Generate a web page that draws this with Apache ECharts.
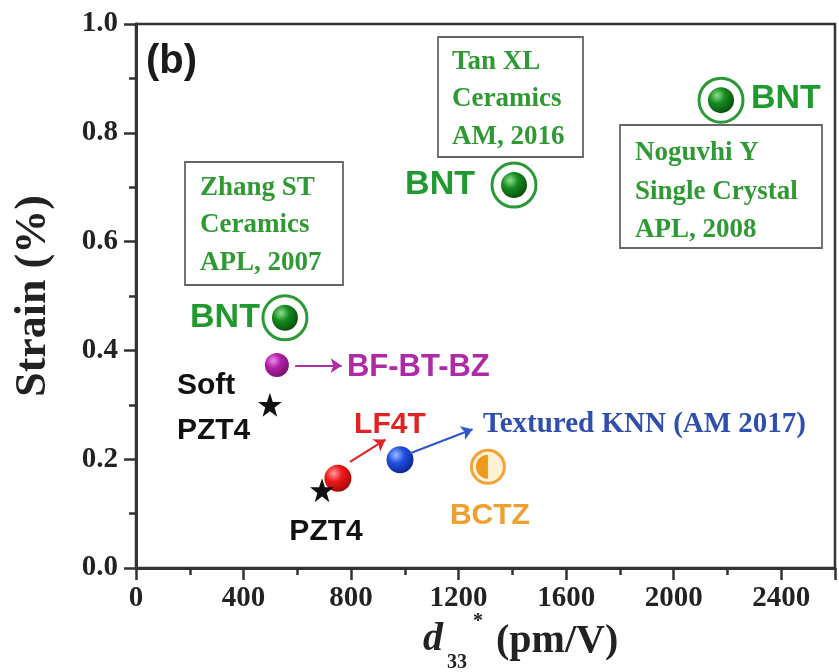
<!DOCTYPE html>
<html><head><meta charset="utf-8">
<script src="https://cdn.jsdelivr.net/npm/echarts@6/dist/echarts.min.js"></script>
<style>html,body{margin:0;padding:0;background:#fff}#c{width:839px;height:672px}</style>
</head><body><div id="c"></div>
<script>
// ---- data (d33* in pm/V, strain in %) ----
const bntLabels = ['BNT', 'BNT', 'BNT'];
const bntD33 = [554, 1406, 2176];
const bntStrain = [0.46, 0.704, 0.86];
const bfbtbzPoint = [524, 0.373];
const softPzt4Point = [498, 0.30];
const pzt4Point = [692, 0.143];
const lf4tPoint = [751, 0.165];
const knnPoint = [982, 0.199];
const bctzPoint = [1309, 0.186];
// arrow start / end in data units
const arrowBF = [[592, 0.372], [765, 0.372]];
const arrowLF = [[796, 0.195], [928, 0.236]];
const arrowKNN = [[1020, 0.211], [1252, 0.255]];
const xTickValues = [0, 400, 800, 1200, 1600, 2000, 2400];
const yTickValues = [0.0, 0.2, 0.4, 0.6, 0.8, 1.0];
const notes = [
  ['Zhang ST', 'Ceramics', 'APL, 2007'],
  ['Tan XL', 'Ceramics', 'AM, 2016'],
  ['Noguvhi Y', 'Single Crystal', 'APL, 2008']
];

const chart = echarts.init(document.getElementById('c'), null, {renderer: 'canvas'});
const SANS = '"Liberation Sans", Arial, sans-serif';
const SERIF = '"Liberation Serif", "Times New Roman", serif';
const STAR = 'path://M50,0 L61.8,35.3 L98.1,35.3 L68.8,57.1 L79.4,92.7 L50,71.1 L20.6,92.7 L31.2,57.1 L1.9,35.3 L38.2,35.3 Z';
const HALF = 'path://M50,0 A50,50 0 0,0 50,100 Z';

function ball(light, mid, dark) {
  return new echarts.graphic.RadialGradient(0.35, 0.32, 0.7, [
    {offset: 0, color: light}, {offset: 0.45, color: mid}, {offset: 1, color: dark}
  ]);
}
function arrow(pts, color) {
  return {
    silent: true, symbol: ['none', 'arrow'], symbolSize: 11,
    label: {show: false},
    lineStyle: {color: color, width: 2.2, type: 'solid', opacity: 1},
    data: [[{coord: pts[0]}, {coord: pts[1]}]]
  };
}

const bntData = bntD33.map((x, i) => [x, bntStrain[i]]);
const bntLabelLayout = [
  {align: 'right', offset: [-25, 0]},
  {align: 'right', offset: [-39, 0]},
  {align: 'left', offset: [30, -2]}
];

const option = {
  animation: false,
  backgroundColor: '#fff',
  grid: {left: 136, right: 4, top: 24, bottom: 104, show: true, borderColor: '#333', borderWidth: 2.5, backgroundColor: 'transparent'},
  xAxis: [{
    type: 'value', min: 0, max: 2600, interval: 400, position: 'bottom',
    axisLine: {lineStyle: {color: '#333', width: 3}},
    axisTick: {show: true, inside: false, length: 12, lineStyle: {color: '#333', width: 2.5}},
    axisLabel: {margin: 16, color: '#222', fontFamily: SERIF, fontWeight: 'bold', fontSize: 29,
      formatter: v => xTickValues.indexOf(v) >= 0 ? String(v) : ''},
    splitLine: {show: false}
  }, {
    type: 'value', min: 0, max: 2600, interval: 200, position: 'bottom',
    axisLine: {show: false},
    axisTick: {show: true, inside: false, length: 7, lineStyle: {color: '#333', width: 2.5}},
    axisLabel: {show: false}, splitLine: {show: false}
  }],
  yAxis: {
    type: 'value', min: 0, max: 1, interval: 0.2,
    name: 'Strain (%)', nameLocation: 'middle', nameGap: 80,
    nameTextStyle: {fontFamily: SERIF, fontWeight: 'bold', fontSize: 44, color: '#222'},
    axisLine: {lineStyle: {color: '#333', width: 3}},
    axisTick: {show: true, inside: false, length: 12, lineStyle: {color: '#333', width: 2.5}},
    minorTick: {show: true, splitNumber: 2, length: 7, lineStyle: {color: '#333', width: 2.5}},
    axisLabel: {margin: 18, color: '#222', fontFamily: SERIF, fontWeight: 'bold', fontSize: 29,
      formatter: v => yTickValues.some(t => Math.abs(t - v) < 1e-9) ? v.toFixed(1) : ''},
    splitLine: {show: false}
  },
  series: [
    { // BNT rings with labels
      type: 'scatter', name: 'BNT ring', symbol: 'circle', symbolSize: 44, z: 3,
      itemStyle: {color: 'rgba(255,255,255,0)', borderColor: '#2a9a36', borderWidth: 3, opacity: 1},
      data: bntData.map((p, i) => ({
        value: p,
        label: {show: true, formatter: bntLabels[i], position: 'inside', verticalAlign: 'middle',
          align: bntLabelLayout[i].align, offset: bntLabelLayout[i].offset,
          color: '#1f9a2e', fontFamily: SANS, fontWeight: 'bold', fontSize: 34}
      }))
    },
    { // BNT balls
      type: 'scatter', name: 'BNT', symbol: 'circle', symbolSize: 26, z: 4,
      itemStyle: {color: ball('#8fe08f', '#168a20', '#08520e'), opacity: 1},
      data: bntData
    },
    { // BF-BT-BZ
      type: 'scatter', name: 'BF-BT-BZ', symbol: 'circle', symbolSize: 24, z: 4,
      itemStyle: {color: ball('#f08ae8', '#b020a6', '#7d1276'), opacity: 1},
      data: [{value: bfbtbzPoint, label: {show: true, formatter: 'BF-BT-BZ', position: 'inside',
        align: 'left', verticalAlign: 'middle', offset: [70, 2], color: '#b02aa6',
        fontFamily: SANS, fontWeight: 'bold', fontSize: 31}}],
      markLine: arrow(arrowBF, '#b02aa6')
    },
    { // LF4T
      type: 'scatter', name: 'LF4T', symbol: 'circle', symbolSize: 27, z: 4,
      itemStyle: {color: ball('#ff9a9a', '#ee1818', '#a80a0a'), opacity: 1},
      data: [{value: lf4tPoint, label: {show: true, formatter: 'LF4T', position: 'inside',
        align: 'center', verticalAlign: 'middle', offset: [52, -54], color: '#e02424',
        fontFamily: SANS, fontWeight: 'bold', fontSize: 30}}],
      markLine: arrow(arrowLF, '#e02424')
    },
    { // Soft PZT4 star
      type: 'scatter', name: 'Soft PZT4', symbol: STAR, symbolSize: 24, z: 5,
      itemStyle: {color: '#111', opacity: 1},
      data: [{value: softPzt4Point, label: {show: true, formatter: 'Soft\nPZT4', position: 'inside',
        align: 'left', verticalAlign: 'middle', offset: [-93, 3], lineHeight: 45, color: '#111',
        fontFamily: SANS, fontWeight: 'bold', fontSize: 30}}]
    },
    { // PZT4 star
      type: 'scatter', name: 'PZT4', symbol: STAR, symbolSize: 24, z: 5,
      itemStyle: {color: '#111', opacity: 1},
      data: [{value: pzt4Point, label: {show: true, formatter: 'PZT4', position: 'inside',
        align: 'center', verticalAlign: 'middle', offset: [4, 42], color: '#111',
        fontFamily: SANS, fontWeight: 'bold', fontSize: 30}}]
    },
    { // Textured KNN
      type: 'scatter', name: 'Textured KNN', symbol: 'circle', symbolSize: 27, z: 4,
      itemStyle: {color: ball('#9fb8ff', '#1f4fe0', '#0c2a96'), opacity: 1},
      data: [{value: knnPoint, label: {show: true, formatter: 'Textured KNN (AM 2017)', position: 'inside',
        align: 'left', verticalAlign: 'middle', offset: [83, -35], color: '#2f4fb0',
        fontFamily: SERIF, fontWeight: 'bold', fontSize: 29}}],
      markLine: arrow(arrowKNN, '#2f58c8')
    },
    { // BCTZ ring
      type: 'scatter', name: 'BCTZ ring', symbol: 'circle', symbolSize: 33, z: 3,
      itemStyle: {color: '#fff3d6', borderColor: '#f0a43a', borderWidth: 3, opacity: 1},
      data: [{value: bctzPoint, label: {show: true, formatter: 'BCTZ', position: 'inside',
        align: 'center', verticalAlign: 'middle', offset: [2, 49], color: '#f0a030',
        fontFamily: SANS, fontWeight: 'bold', fontSize: 30}}]
    },
    { // BCTZ half disk
      type: 'scatter', name: 'BCTZ', symbol: HALF, symbolSize: [12, 24], symbolOffset: [-6, 0], z: 4,
      itemStyle: {color: '#ee9a1e', opacity: 1},
      data: [bctzPoint]
    }
  ],
  graphic: [
    {type: 'text', x: 146, y: 62, z: 10, style: {text: '(b)', fill: '#1a1a1a', font: 'bold 40px ' + SANS, verticalAlign: 'middle'}},
    // note boxes
    {type: 'rect', shape: {x: 185, y: 162, width: 158, height: 123}, style: {fill: 'none', stroke: '#666', lineWidth: 1.8}},
    {type: 'text', x: 200, y: 169, style: {text: notes[0].join('\n'), font: 'bold 27px ' + SERIF, lineHeight: 37.5, fill: '#2f9a34', verticalAlign: 'top'}},
    {type: 'rect', shape: {x: 438, y: 37, width: 145, height: 120}, style: {fill: 'none', stroke: '#666', lineWidth: 1.8}},
    {type: 'text', x: 452, y: 43, style: {text: notes[1].join('\n'), font: 'bold 27px ' + SERIF, lineHeight: 37.5, fill: '#2f9a34', verticalAlign: 'top'}},
    {type: 'rect', shape: {x: 620, y: 125, width: 202, height: 123}, style: {fill: 'none', stroke: '#666', lineWidth: 1.8}},
    {type: 'text', x: 635, y: 134, style: {text: notes[2].join('\n'), font: 'bold 27px ' + SERIF, lineHeight: 38.5, fill: '#2f9a34', verticalAlign: 'top'}},
    // x axis title d33* (pm/V)
    {type: 'text', x: 423, y: 640, style: {text: 'd', font: 'italic bold 40px ' + SERIF, fill: '#222', verticalAlign: 'middle'}},
    {type: 'text', x: 447, y: 663, style: {text: '33', font: 'bold 20px ' + SERIF, fill: '#222', verticalAlign: 'middle'}},
    {type: 'text', x: 473, y: 622, style: {text: '*', font: 'bold 20px ' + SERIF, fill: '#222', verticalAlign: 'middle'}},
    {type: 'text', x: 496, y: 642, style: {text: '(pm/V)', font: 'bold 40px ' + SERIF, fill: '#222', verticalAlign: 'middle'}}
  ]
};
chart.setOption(option);
</script></body></html>
